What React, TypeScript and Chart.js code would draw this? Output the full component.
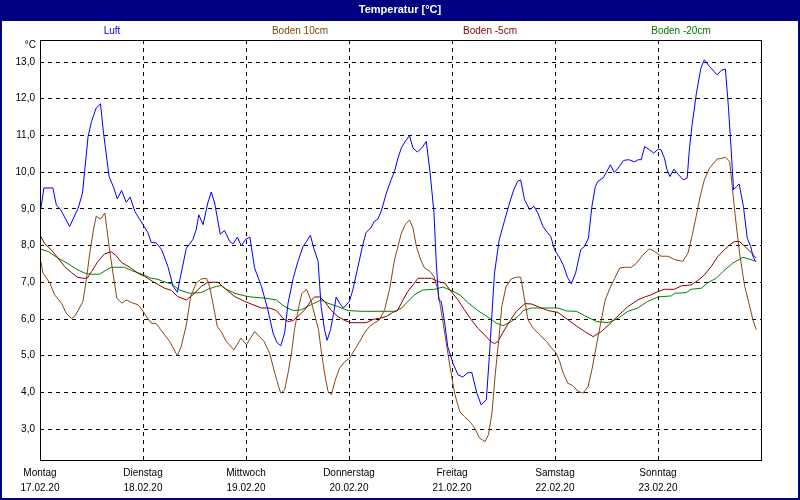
import { useEffect, useRef } from 'react';
import { Chart, registerables } from 'chart.js';

Chart.register(...registerables);

const FONT = '"Liberation Sans", Arial, sans-serif';
const FONT_SIZE = 10;
const TITLE = 'Temperatur [°C]';
const UNIT = '°C';

const dayNames = ['Montag', 'Dienstag', 'Mittwoch', 'Donnerstag', 'Freitag', 'Samstag', 'Sonntag'];
const dayDates = ['17.02.20', '18.02.20', '19.02.20', '20.02.20', '21.02.20', '22.02.20', '23.02.20'];
const xTickHours = [0, 24, 48, 72, 96, 120, 144, 168];
const yTickValues = [3, 4, 5, 6, 7, 8, 9, 10, 11, 12, 13];

const seriesNames = ['Luft', 'Boden 10cm', 'Boden -5cm', 'Boden -20cm'];

// Luft (hours since Mo 17.02.20 00:00)
const luftHours = [
  0.2, 0.9, 3.0, 3.8, 4.8, 6.9, 8.9, 9.9, 10.4, 11.2,
  12.0, 13.1, 14.1, 14.8, 16.1, 17.2, 18.0, 19.0, 20.1, 21.0,
  22.1, 24.0, 25.2, 25.9, 27.1, 28.3, 29.8, 31.0, 32.0, 32.9,
  34.1, 35.6, 36.4, 37.0, 38.0, 39.1, 39.9, 40.7, 42.0, 43.0,
  44.2, 45.0, 46.0, 46.9, 47.8, 48.9, 50.0, 51.6, 53.1, 54.3,
  55.2, 56.1, 57.0, 57.8, 59.0, 60.1, 61.3, 62.1, 63.0, 63.8,
  64.8, 65.5, 66.3, 66.9, 67.7, 68.5, 69.0, 69.8, 70.7, 72.1,
  72.9, 74.1, 75.2, 76.0, 77.1, 77.9, 78.7, 79.5, 80.7, 81.8,
  82.6, 83.4, 84.2, 85.1, 86.1, 86.9, 87.9, 89.0, 90.0, 90.9,
  91.8, 92.3, 92.9, 93.5, 94.3, 95.0, 96.2, 97.4, 98.5, 99.6,
  100.6, 101.8, 102.8, 104.0, 104.7, 105.9, 107.0, 108.2, 109.4, 110.4,
  111.3, 112.0, 112.9, 114.1, 115.1, 116.0, 117.2, 118.2, 119.0, 119.9,
  121.1, 121.9, 122.9, 123.8, 124.8, 126.0, 126.9, 127.8, 128.6, 129.4,
  130.0, 131.2, 131.9, 132.9, 133.8, 134.7, 136.0, 137.2, 138.5, 139.4,
  140.1, 140.9, 142.0, 143.0, 144.1, 144.7, 145.5, 146.1, 146.8, 147.7,
  148.8, 149.9, 150.8, 151.3, 151.9, 152.9, 154.0, 154.8, 156.0, 157.8,
  158.7, 159.7, 160.4, 161.0, 161.6, 162.3, 162.9, 163.9, 164.8, 165.6,
  166.1, 166.7,
];
const luftValues = [
  9.0, 9.57, 9.57, 9.11, 8.98, 8.52, 9.02, 9.43, 10.02, 10.97,
  11.38, 11.75, 11.86, 11.07, 9.88, 9.57, 9.27, 9.5, 9.18, 9.32,
  8.93, 8.57, 8.34, 8.09, 8.07, 7.9, 7.43, 6.89, 6.73, 7.25,
  7.93, 8.16, 8.43, 8.84, 8.57, 9.16, 9.46, 9.16, 8.31, 8.41,
  8.11, 8.05, 8.23, 7.99, 8.16, 8.23, 7.39, 6.89, 6.25, 5.62,
  5.36, 5.27, 5.62, 6.43, 7.11, 7.57, 7.98, 8.11, 8.28, 7.93,
  7.57, 6.34, 5.71, 5.42, 5.71, 6.21, 6.6, 6.43, 6.3, 6.48,
  6.8, 7.43, 8.02, 8.36, 8.48, 8.66, 8.72, 8.93, 9.43, 9.79,
  10.02, 10.38, 10.66, 10.84, 10.99, 10.66, 10.55, 10.66, 10.84, 9.98,
  8.89, 7.61, 6.52, 6.48, 5.89, 5.25, 4.8, 4.48, 4.42, 4.53,
  4.55, 3.98, 3.66, 3.8, 4.98, 7.25, 8.16, 8.66, 9.16, 9.52,
  9.75, 9.79, 9.25, 8.98, 9.07, 8.89, 8.52, 8.36, 8.25, 7.89,
  7.66, 7.48, 7.14, 6.96, 7.25, 7.89, 7.98, 8.21, 9.07, 9.61,
  9.75, 9.84, 9.98, 10.2, 9.99, 10.11, 10.32, 10.34, 10.28, 10.34,
  10.34, 10.7, 10.61, 10.52, 10.63, 10.61, 10.38, 10.07, 9.88, 10.08,
  9.93, 9.79, 9.84, 10.61, 11.25, 12.11, 12.84, 13.06, 12.88, 12.65,
  12.77, 12.81, 11.79, 10.7, 9.52, 9.61, 9.68, 9.07, 8.2, 7.98,
  7.72, 7.57,
];

// Boden 10cm
const boden10Hours = [
  0.2, 0.7, 2.3, 3.4, 5.0, 6.1, 7.3, 8.1, 9.2, 10.0,
  10.8, 11.6, 12.4, 13.1, 14.1, 15.1, 16.1, 17.0, 17.9, 19.1,
  20.1, 21.3, 22.8, 24.0, 24.8, 25.9, 27.1, 28.7, 30.2, 32.0,
  32.9, 34.1, 35.1, 36.4, 37.6, 38.8, 39.5, 40.3, 41.3, 42.2,
  43.4, 45.2, 46.8, 48.1, 50.0, 52.2, 53.5, 54.7, 55.6, 56.1,
  57.0, 57.8, 58.6, 59.3, 60.3, 61.0, 62.1, 63.1, 64.1, 64.9,
  65.5, 66.3, 67.1, 67.9, 68.8, 69.8, 71.0, 72.1, 73.3, 74.5,
  75.6, 76.8, 77.9, 79.1, 80.3, 81.5, 82.6, 83.6, 84.2, 85.1,
  86.1, 86.9, 87.7, 88.7, 89.6, 90.8, 91.8, 92.6, 93.3, 94.3,
  95.4, 96.6, 97.8, 98.9, 100.1, 101.3, 102.4, 103.7, 104.5, 105.3,
  106.1, 106.9, 107.6, 108.6, 109.8, 111.0, 112.0, 112.8, 113.7, 114.9,
  116.4, 118.0, 119.2, 120.3, 121.1, 121.9, 123.0, 124.2, 125.4, 126.5,
  127.7, 128.6, 129.6, 130.8, 131.7, 132.8, 133.9, 135.1, 136.3, 137.8,
  139.0, 140.5, 142.0, 143.2, 144.7, 146.3, 147.8, 149.8, 151.0, 151.9,
  152.9, 153.9, 154.8, 156.0, 157.8, 158.7, 159.7, 160.7, 161.3, 162.0,
  163.0, 164.2, 165.2, 166.1, 166.9,
];
const boden10Values = [
  7.57, 7.25, 6.98, 6.66, 6.43, 6.16, 6.02, 6.07, 6.3, 6.48,
  7.07, 7.8, 8.39, 8.8, 8.72, 8.89, 7.98, 7.25, 6.57, 6.43,
  6.52, 6.45, 6.39, 6.21, 6.07, 5.89, 5.87, 5.62, 5.39, 5.0,
  5.25, 5.84, 6.61, 6.98, 7.09, 7.11, 6.89, 6.43, 5.8, 5.66,
  5.39, 5.16, 5.48, 5.3, 5.66, 5.39, 5.07, 4.53, 4.16, 3.98,
  4.07, 4.53, 5.07, 5.71, 6.34, 6.69, 6.81, 6.52, 6.07, 5.71,
  5.16, 4.53, 4.03, 3.94, 4.34, 4.66, 4.84, 4.93, 5.16, 5.39,
  5.62, 5.8, 5.89, 5.98, 6.25, 6.84, 7.61, 8.07, 8.34, 8.57,
  8.7, 8.48, 7.98, 7.61, 7.39, 7.3, 7.16, 6.84, 6.34, 5.62,
  4.8, 3.98, 3.48, 3.34, 3.21, 3.03, 2.76, 2.66, 2.85, 3.43,
  4.53, 5.43, 6.34, 6.89, 7.09, 7.14, 7.14, 6.61, 5.98, 5.75,
  5.57, 5.39, 5.21, 5.07, 4.84, 4.53, 4.25, 4.18, 4.03, 3.98,
  4.16, 4.62, 5.25, 5.98, 6.52, 6.84, 7.11, 7.39, 7.41, 7.41,
  7.52, 7.75, 7.91, 7.84, 7.71, 7.71, 7.62, 7.57, 7.8, 8.25,
  8.8, 9.38, 9.79, 10.11, 10.36, 10.37, 10.41, 10.29, 9.61, 8.8,
  7.8, 6.89, 6.43, 5.98, 5.71,
];

// Boden -5cm
const boden5Hours = [
  0.2, 1.1, 2.6, 4.2, 5.7, 7.3, 8.7, 10.0, 11.0, 12.0,
  13.5, 15.1, 16.6, 17.8, 19.0, 20.9, 22.8, 24.4, 26.3, 27.5,
  29.0, 30.6, 32.1, 34.1, 35.6, 37.6, 39.1, 41.5, 43.0, 45.4,
  47.7, 49.6, 51.6, 53.5, 55.1, 56.6, 57.8, 59.0, 60.1, 61.7,
  63.2, 64.0, 65.2, 66.3, 67.9, 69.4, 71.0, 72.5, 74.5, 76.0,
  77.6, 79.1, 80.7, 82.2, 83.3, 84.6, 85.7, 86.9, 88.1, 89.6,
  91.2, 92.7, 94.3, 95.8, 97.4, 98.9, 100.5, 102.0, 103.6, 105.0,
  105.9, 106.7, 107.9, 109.4, 111.0, 113.0, 114.5, 116.4, 118.4, 120.7,
  123.0, 125.0, 126.9, 128.9, 130.8, 132.8, 134.7, 137.0, 139.3, 140.9,
  142.4, 144.0, 145.5, 147.8, 149.4, 151.7, 153.3, 154.8, 156.4, 157.9,
  159.5, 160.7, 161.8, 163.0, 164.2, 165.7, 166.9,
];
const boden5Values = [
  8.25, 8.05, 7.89, 7.66, 7.43, 7.27, 7.14, 7.11, 7.11, 7.29,
  7.57, 7.78, 7.83, 7.72, 7.54, 7.41, 7.25, 7.16, 7.02, 6.94,
  6.84, 6.78, 6.61, 6.52, 6.66, 6.89, 7.0, 7.0, 6.84, 6.61,
  6.48, 6.39, 6.3, 6.3, 6.23, 6.02, 5.93, 5.96, 6.07, 6.25,
  6.51, 6.6, 6.6, 6.48, 6.23, 6.07, 5.96, 5.9, 5.9, 5.9,
  5.99, 6.02, 6.07, 6.18, 6.23, 6.52, 6.75, 6.93, 7.11, 7.11,
  7.11, 7.02, 6.98, 6.75, 6.52, 6.25, 5.98, 5.75, 5.57, 5.39,
  5.33, 5.39, 5.64, 5.93, 6.21, 6.42, 6.41, 6.32, 6.23, 6.18,
  5.98, 5.81, 5.66, 5.52, 5.66, 5.87, 6.09, 6.34, 6.52, 6.6,
  6.66, 6.75, 6.81, 6.81, 6.9, 6.93, 7.05, 7.2, 7.43, 7.7,
  7.89, 8.02, 8.11, 8.11, 7.98, 7.81, 7.66,
];

// Boden -20cm
const boden20Hours = [
  0.2, 1.9, 4.2, 6.5, 8.5, 10.4, 12.0, 13.9, 15.5, 16.6,
  19.7, 21.3, 23.6, 25.9, 27.5, 28.7, 30.6, 32.5, 34.9, 37.6,
  39.1, 41.1, 42.2, 43.4, 45.4, 47.7, 49.2, 52.3, 55.1, 56.4,
  57.0, 59.0, 60.9, 63.2, 65.5, 67.1, 69.4, 71.8, 74.9, 78.7,
  82.6, 84.3, 85.3, 87.3, 89.2, 91.9, 93.9, 95.8, 97.8, 99.7,
  102.0, 104.4, 106.3, 107.9, 109.8, 111.4, 112.6, 114.5, 117.6, 120.7,
  122.7, 125.0, 126.9, 129.7, 132.4, 134.7, 137.0, 139.3, 141.6, 144.0,
  147.1, 147.8, 150.6, 151.7, 154.1, 155.6, 157.6, 159.1, 161.4, 163.8,
  165.3, 166.9,
];
const boden20Values = [
  7.9, 7.84, 7.66, 7.51, 7.36, 7.25, 7.22, 7.22, 7.34, 7.41,
  7.41, 7.32, 7.23, 7.11, 7.08, 7.02, 6.96, 6.79, 6.7, 6.72,
  6.81, 6.89, 6.91, 6.81, 6.7, 6.63, 6.6, 6.57, 6.52, 6.39,
  6.34, 6.23, 6.25, 6.39, 6.52, 6.43, 6.34, 6.23, 6.21, 6.21,
  6.21, 6.3, 6.43, 6.66, 6.79, 6.81, 6.87, 6.78, 6.66, 6.45,
  6.23, 6.05, 5.89, 5.82, 5.93, 6.07, 6.23, 6.3, 6.3, 6.3,
  6.22, 6.21, 6.09, 5.93, 5.9, 6.02, 6.21, 6.3, 6.48, 6.6,
  6.63, 6.7, 6.72, 6.81, 6.84, 6.99, 7.11, 7.29, 7.52, 7.68,
  7.63, 7.57,
];

const lineColors = ['#0000ff', '#8b4513', '#8b0000', '#008000'];
const legendColors = ['#0000e0', '#7a4410', '#800000', '#007800'];
const legendCenters = [112, 300, 490, 681];

const toPoints = (hours: number[], values: number[]) =>
  hours.map((h, i) => ({ x: h, y: values[i] }));

const framePlugin = {
  id: 'frame',
  beforeDraw(chart: any) {
    const { ctx, width, height } = chart;
    ctx.save();
    ctx.fillStyle = '#ffffff';
    ctx.fillRect(0, 0, width, height);
    ctx.fillStyle = '#000080';
    ctx.fillRect(0, 0, width, 21);
    ctx.fillStyle = '#ffffff';
    ctx.font = 'bold 11px "Liberation Sans", Arial, sans-serif';
    ctx.textAlign = 'center';
    ctx.textBaseline = 'middle';
    ctx.fillText(TITLE, width / 2, 10);
    ctx.font = FONT_SIZE + 'px ' + FONT;
    seriesNames.forEach((name, i) => {
      ctx.fillStyle = legendColors[i];
      ctx.fillText(name, legendCenters[i], 31);
    });
    ctx.fillStyle = '#000';
    ctx.textAlign = 'right';
    ctx.fillText(UNIT, 36, 45);
    ctx.restore();
  },
  afterDraw(chart: any) {
    const { ctx, chartArea: a, width, height } = chart;
    ctx.save();
    ctx.strokeStyle = '#000';
    ctx.lineWidth = 1;
    ctx.setLineDash([]);
    ctx.strokeRect(
      Math.round(a.left) + 0.5,
      Math.round(a.top) + 0.5,
      Math.round(a.right - a.left),
      Math.round(a.bottom - a.top)
    );
    ctx.strokeStyle = '#000080';
    ctx.lineWidth = 2;
    ctx.strokeRect(1, 1, width - 2, height - 2);
    ctx.restore();
  },
};

export default function App() {
  const ref = useRef<HTMLCanvasElement | null>(null);

  useEffect(() => {
    document.body.style.margin = '0';
    const canvas = ref.current;
    if (!canvas) return;
    const series = [
      toPoints(luftHours, luftValues),
      toPoints(boden10Hours, boden10Values),
      toPoints(boden5Hours, boden5Values),
      toPoints(boden20Hours, boden20Values),
    ];
    const chart = new Chart(canvas, {
      type: 'line',
      data: {
        datasets: series.map((pts, i) => ({
          label: seriesNames[i],
          data: pts,
          borderColor: lineColors[i],
          backgroundColor: lineColors[i],
          borderWidth: 1,
          pointRadius: 0,
          tension: 0,
          fill: false,
        })),
      },
      options: {
        animation: false,
        responsive: false,
        events: [],
        layout: { padding: { top: 40, right: 39, left: 0, bottom: 0 } },
        plugins: {
          legend: { display: false },
          title: { display: false },
          tooltip: { enabled: false },
        },
        scales: {
          x: {
            type: 'linear',
            min: 0,
            max: 168,
            afterBuildTicks: (s: any) => {
              s.ticks = xTickHours.map((v) => ({ value: v }));
            },
            afterFit: (s: any) => {
              s.height = 40;
            },
            grid: { color: '#000', lineWidth: 1, drawTicks: false, tickLength: 0 },
            border: { display: false, dash: [4, 4] },
            ticks: {
              autoSkip: false,
              maxRotation: 0,
              minRotation: 0,
              padding: 6,
              color: '#000',
              font: { family: FONT, size: FONT_SIZE, lineHeight: 1.5 },
              callback: (_v: any, i: number) =>
                i < dayNames.length ? [dayNames[i], dayDates[i]] : '',
            },
          },
          y: {
            type: 'linear',
            min: 2.16,
            max: 13.6,
            afterBuildTicks: (s: any) => {
              s.ticks = yTickValues.map((v) => ({ value: v }));
            },
            afterFit: (s: any) => {
              s.width = 40;
            },
            grid: { color: '#000', lineWidth: 1, drawTicks: false, tickLength: 0 },
            border: { display: false, dash: [4, 4] },
            ticks: {
              padding: 5,
              color: '#000',
              font: { family: FONT, size: FONT_SIZE },
              callback: (v: any) => Number(v).toFixed(1).replace('.', ','),
            },
          },
        },
      },
      plugins: [framePlugin],
    });
    return () => chart.destroy();
  }, []);

  return (
    <div style={{ width: 800, height: 500 }}>
      <canvas ref={ref} width={800} height={500} style={{ display: 'block' }} />
    </div>
  );
}
